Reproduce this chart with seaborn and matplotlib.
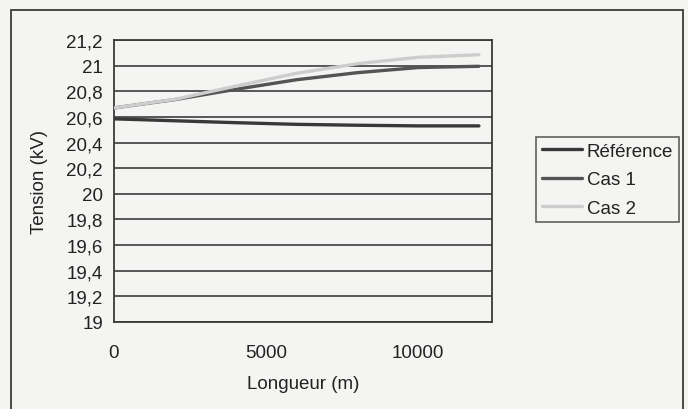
import pandas as pd
import matplotlib
matplotlib.use("Agg")
import matplotlib.pyplot as plt
import seaborn as sns
from matplotlib.patches import Rectangle

# === DONNÉES ===
longueur = [0, 2000, 4000, 6000, 8000, 10000, 12000]
tension_ref = [20.585, 20.57, 20.555, 20.542, 20.535, 20.53, 20.53]
tension_cas1 = [20.67, 20.735, 20.815, 20.89, 20.945, 20.985, 20.995]
tension_cas2 = [20.67, 20.737, 20.84, 20.94, 21.015, 21.065, 21.085]
series = ["Référence", "Cas 1", "Cas 2"]
y_ticks = [19, 19.2, 19.4, 19.6, 19.8, 20, 20.2, 20.4, 20.6, 20.8, 21, 21.2]
x_ticks = [0, 5000, 10000]

df = pd.concat([
    pd.DataFrame({"Longueur": longueur, "Tension": tension_ref, "Série": series[0]}),
    pd.DataFrame({"Longueur": longueur, "Tension": tension_cas1, "Série": series[1]}),
    pd.DataFrame({"Longueur": longueur, "Tension": tension_cas2, "Série": series[2]}),
])

# === STYLE ===
sns.set_style("white")
plt.rcParams["font.family"] = ["Liberation Sans", "DejaVu Sans"]
bg = "#f4f4f2"
couleurs = {"Référence": "#383838", "Cas 1": "#545454", "Cas 2": "#cdcdcd"}
fs = 13.5

fig = plt.figure(figsize=(6.88, 4.10), dpi=100, facecolor=bg)
ax = fig.add_axes([114 / 688, 87 / 410, 378 / 688, 282 / 410])
ax.set_facecolor(bg)

for v in y_ticks:
    ax.axhline(v, color="#4a4a4a", lw=1.3, zorder=1)

sns.lineplot(data=df, x="Longueur", y="Tension", hue="Série", hue_order=series,
             palette=couleurs, lw=2.4, ax=ax, zorder=3, legend=False)

ax.set_xlim(0, 12430)
ax.set_ylim(19, 21.2)
ax.set_xticks(x_ticks)
ax.set_xticklabels([str(x) for x in x_ticks])
ax.set_yticks(y_ticks)
ax.set_yticklabels([f"{v:g}".replace(".", ",") for v in y_ticks])
ax.tick_params(axis="y", direction="out", length=5, width=1.2, pad=3,
               labelsize=fs, colors="#3a3a3a", labelcolor="#222222")
ax.tick_params(axis="x", direction="out", length=5, width=1.2, pad=11,
               labelsize=fs, colors="#3a3a3a", labelcolor="#222222")
for s in ax.spines.values():
    s.set_color("#3a3a3a")
    s.set_linewidth(1.3)

ax.set_xlabel("Longueur (m)", fontsize=fs, color="#222222", va="center")
ax.set_ylabel("Tension (kV)", fontsize=fs, color="#222222", va="center")
ax.xaxis.set_label_coords(0.5, (323 - 385) / 282)
ax.yaxis.set_label_coords((40 - 114) / 378, 0.5)

# === LÉGENDE ===
handles = [plt.Line2D([], [], color=couleurs[s], lw=2.4) for s in series]
leg = fig.legend(handles, series, loc="upper left",
                 bbox_to_anchor=(536 / 688, 1 - 138 / 410), fontsize=fs,
                 frameon=True, fancybox=False, borderpad=0.3, labelspacing=0.6,
                 handlelength=2.15, handletextpad=0.25, borderaxespad=0)
leg.get_frame().set_edgecolor("#3a3a3a")
leg.get_frame().set_linewidth(1.2)
leg.get_frame().set_facecolor(bg)
for t in leg.get_texts():
    t.set_color("#222222")

# cadre extérieur du graphique
fig.patches.append(Rectangle((11 / 688, -0.05), (683 - 11) / 688, 1.05 - 11 / 410,
                             transform=fig.transFigure, fill=False,
                             edgecolor="#3a3a3a", lw=1.3))

fig.savefig("out.png", dpi=100, facecolor=bg)
